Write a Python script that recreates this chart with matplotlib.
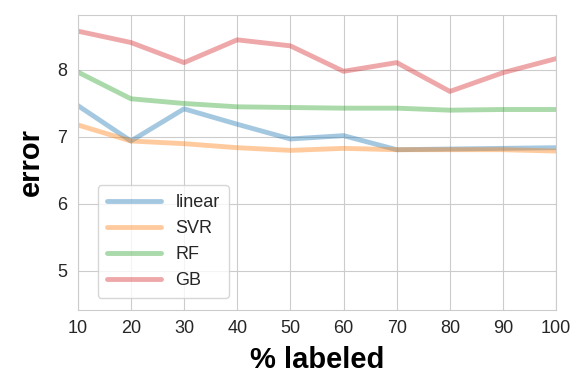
import matplotlib
matplotlib.use("Agg")
import matplotlib.pyplot as plt
import seaborn as sns

# % of data labeled
pct_labeled = [10, 20, 30, 40, 50, 60, 70, 80, 90, 100]

# error per model
err_linear = [7.47, 6.94, 7.42, 7.19, 6.97, 7.02, 6.81, 6.82, 6.83, 6.84]
err_svr = [7.18, 6.94, 6.90, 6.84, 6.80, 6.83, 6.81, 6.81, 6.81, 6.79]
err_rf = [7.97, 7.57, 7.50, 7.45, 7.44, 7.43, 7.43, 7.40, 7.41, 7.41]
err_gb = [8.58, 8.41, 8.11, 8.45, 8.36, 7.98, 8.11, 7.68, 7.96, 8.17]

series = [("linear", err_linear), ("SVR", err_svr), ("RF", err_rf), ("GB", err_gb)]

sns.set_style("whitegrid")
plt.rcParams["font.family"] = ["Liberation Sans", "DejaVu Sans"]

fig = plt.figure(figsize=(5.8, 3.76), dpi=100)
ax = fig.add_axes([0.134, 0.176, 0.825, 0.784])

for name, vals in series:
    ax.plot(pct_labeled, vals, linewidth=3.5, alpha=0.4, label=name)

ax.set_xlim(10, 100)
ax.set_ylim(4.42, 8.82)
ax.set_xticks(pct_labeled)
ax.set_yticks([5, 6, 7, 8])
ax.tick_params(labelsize=13, pad=4)
ax.set_xlabel("% labeled", fontsize=21, fontweight="bold", color="black", labelpad=6)
ax.set_ylabel("error", fontsize=21, fontweight="bold", color="black", labelpad=9)

ax.legend(loc="lower left", bbox_to_anchor=(0.042, 0.04), borderaxespad=0,
          fontsize=13, handlelength=3.0, borderpad=0.5, labelspacing=0.5)

fig.savefig("out.png", dpi=100)
